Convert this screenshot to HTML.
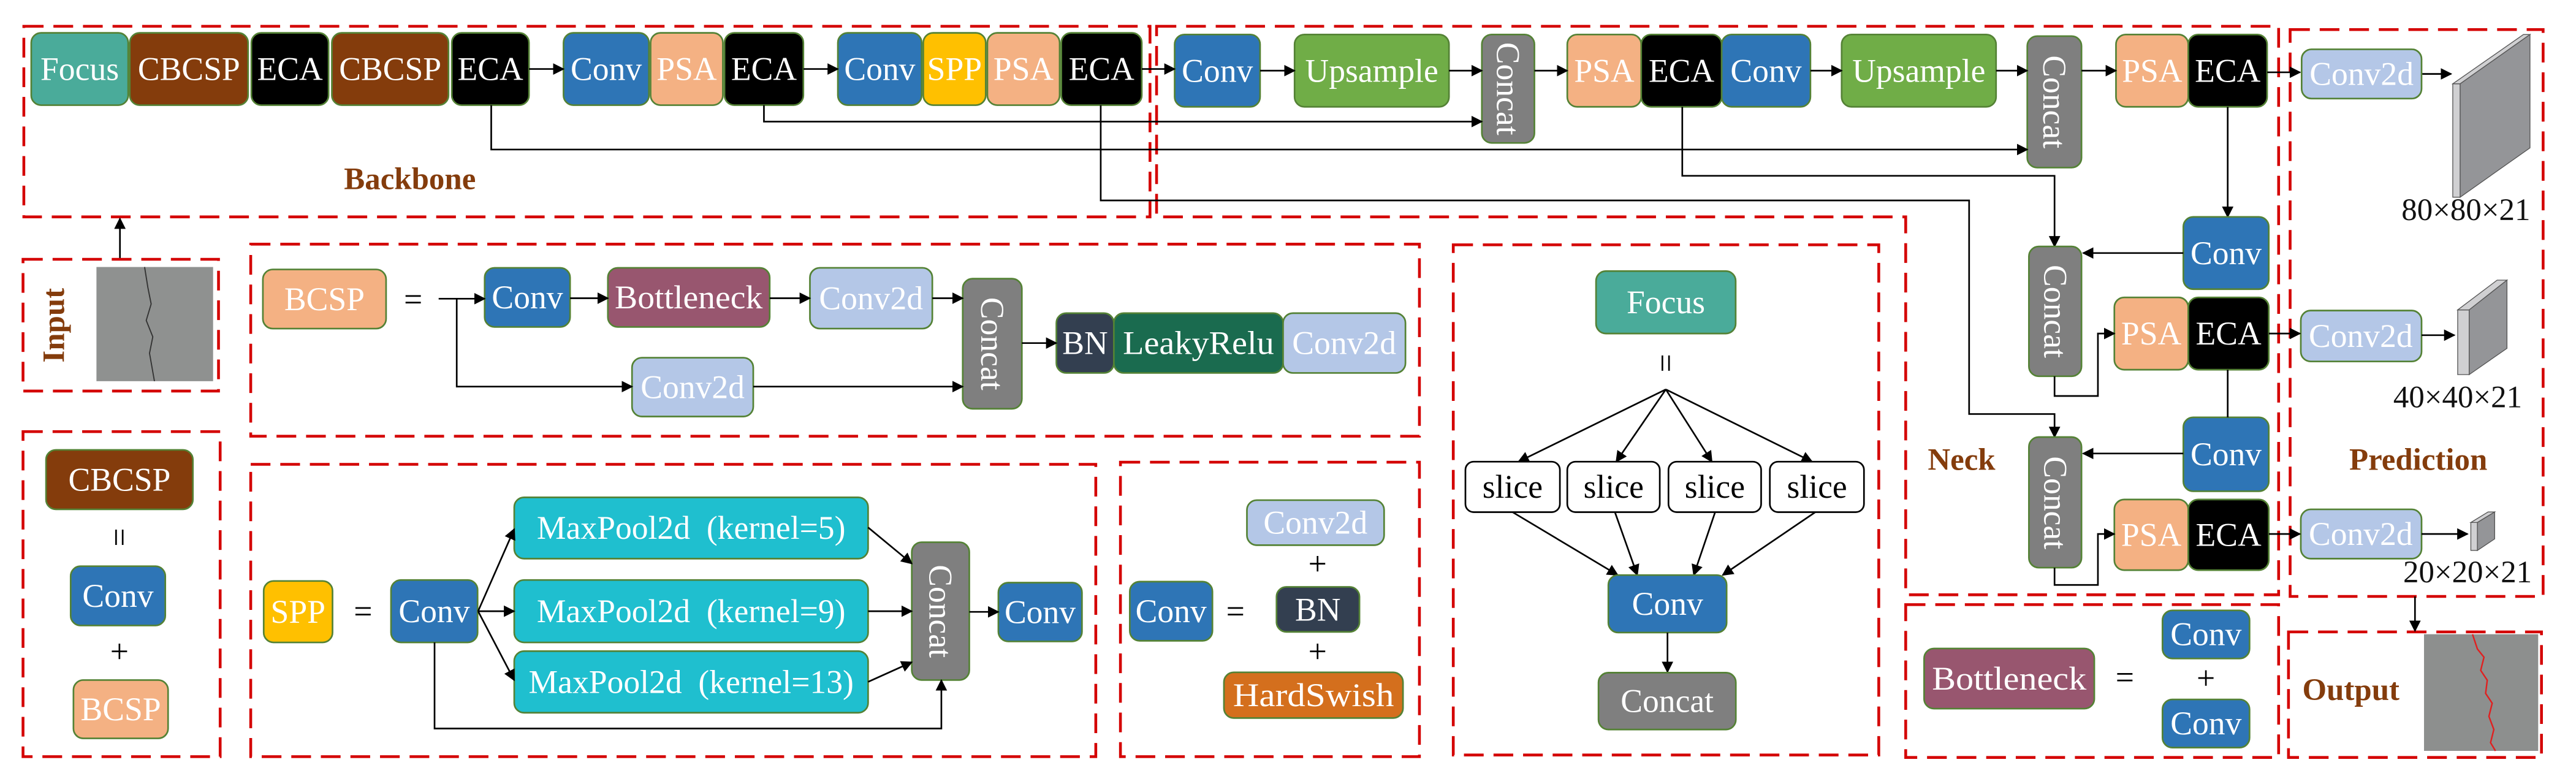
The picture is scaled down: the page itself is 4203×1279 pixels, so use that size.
<!DOCTYPE html>
<html><head><meta charset="utf-8"><style>
html,body{margin:0;padding:0;background:#fff;}
svg{display:block;}
text{font-family:'Liberation Serif','DejaVu Serif',serif;}
.t{fill:#fff;font-size:20px;text-anchor:middle;dominant-baseline:central;}
.k{fill:#000;}
.lb{fill:#843c0c;font-weight:bold;font-size:19px;text-anchor:middle;}
.dim{fill:#111;font-size:19px;text-anchor:middle;}
.d{fill:none;stroke:#d40000;stroke-width:1.7;stroke-dasharray:12 6;}
.b{stroke:#548235;stroke-width:1;}
.l{fill:none;stroke:#000;stroke-width:1;}
.la{fill:none;stroke:#000;stroke-width:1;marker-end:url(#ar);}
</style></head><body>
<svg width="4203" height="1279" viewBox="0 0 1568 477.16" xmlns="http://www.w3.org/2000/svg" font-family="Liberation Serif, serif">
<defs>
<marker id="ar" viewBox="0 0 10 10" refX="9" refY="5" markerWidth="7" markerHeight="7" markerUnits="userSpaceOnUse" orient="auto"><path d="M0,0 L10,5 L0,10 z" fill="#000"/></marker>
</defs>
<rect width="1568" height="477.16" fill="#fff"/>

<!-- dashed boxes -->
<rect class="d" x="14.5" y="16" width="685.5" height="116"/>
<path class="d" d="M704 16 H1387 V362 H1160 V132 H704 Z"/>
<rect class="d" x="1394" y="18" width="154" height="345"/>
<rect class="d" x="1393" y="384.6" width="154" height="76.4"/>
<rect class="d" x="1160" y="368" width="227" height="93"/>
<rect class="d" x="884.6" y="149" width="259" height="310.5"/>
<rect class="d" x="14" y="157.8" width="119" height="80.2"/>
<rect class="d" x="14" y="262.7" width="120" height="197.8"/>
<rect class="d" x="152.6" y="148.6" width="711.4" height="116.9"/>
<rect class="d" x="152.6" y="282.6" width="514.4" height="177.9"/>
<rect class="d" x="682" y="281.3" width="182" height="179.2"/>

<!-- top row backbone -->
<g>
<rect class="b" x="19" y="20" width="59" height="44" rx="6" fill="#4aab9a"/><text class="t" x="48.5" y="42">Focus</text>
<rect class="b" x="79" y="20" width="72" height="44" rx="6" fill="#843c0c"/><text class="t" x="115" y="42">CBCSP</text>
<rect class="b" x="153" y="20" width="47" height="44" rx="6" fill="#000"/><text class="t" x="176.5" y="42">ECA</text>
<rect class="b" x="202" y="20" width="71" height="44" rx="6" fill="#843c0c"/><text class="t" x="237.5" y="42">CBCSP</text>
<rect class="b" x="275" y="20" width="47" height="44" rx="6" fill="#000"/><text class="t" x="298.5" y="42">ECA</text>
<rect class="b" x="343" y="20" width="52" height="44" rx="6" fill="#2e75b6"/><text class="t" x="369" y="42">Conv</text>
<rect class="b" x="396" y="20" width="44" height="44" rx="6" fill="#f4b183"/><text class="t" x="418" y="42">PSA</text>
<rect class="b" x="441" y="20" width="48" height="44" rx="6" fill="#000"/><text class="t" x="465" y="42">ECA</text>
<rect class="b" x="510" y="20" width="51" height="44" rx="6" fill="#2e75b6"/><text class="t" x="535.5" y="42">Conv</text>
<rect class="b" x="562" y="20" width="38" height="44" rx="6" fill="#ffc000"/><text class="t" x="581" y="42">SPP</text>
<rect class="b" x="601" y="20" width="44" height="44" rx="6" fill="#f4b183"/><text class="t" x="623" y="42">PSA</text>
<rect class="b" x="646" y="20" width="49" height="44" rx="6" fill="#000"/><text class="t" x="670.5" y="42">ECA</text>
</g>
<!-- top row neck -->
<g>
<rect class="b" x="715" y="21" width="52" height="44" rx="6" fill="#2e75b6"/><text class="t" x="741" y="43">Conv</text>
<rect class="b" x="788" y="21" width="94" height="44" rx="6" fill="#70ad47"/><text class="t" x="835" y="43">Upsample</text>
<rect class="b" x="902" y="21" width="32" height="66" rx="6" fill="#7f7f7f"/><text class="t" transform="translate(918,54) rotate(90)" x="0" y="0">Concat</text>
<rect class="b" x="954" y="21" width="45" height="44" rx="6" fill="#f4b183"/><text class="t" x="976.5" y="43">PSA</text>
<rect class="b" x="999" y="21" width="49" height="44" rx="6" fill="#000"/><text class="t" x="1023.5" y="43">ECA</text>
<rect class="b" x="1048" y="21" width="54" height="44" rx="6" fill="#2e75b6"/><text class="t" x="1075" y="43">Conv</text>
<rect class="b" x="1121" y="21" width="94" height="44" rx="6" fill="#70ad47"/><text class="t" x="1168" y="43">Upsample</text>
<rect class="b" x="1234" y="22" width="33" height="80" rx="6" fill="#7f7f7f"/><text class="t" transform="translate(1250.5,62) rotate(90)" x="0" y="0">Concat</text>
<rect class="b" x="1288" y="21" width="44" height="44" rx="6" fill="#f4b183"/><text class="t" x="1310" y="43">PSA</text>
<rect class="b" x="1332" y="21" width="48" height="44" rx="6" fill="#000"/><text class="t" x="1356" y="43">ECA</text>
</g>

<!-- top arrows -->
<path class="la" d="M322 42 H343"/>
<path class="la" d="M489 42 H510"/>
<path class="la" d="M695 42 H715"/>
<path class="la" d="M767 43 H788"/>
<path class="la" d="M882 43 H902"/>
<path class="la" d="M934 43 H954"/>
<path class="la" d="M1102 43 H1121"/>
<path class="la" d="M1215 43 H1234"/>
<path class="la" d="M1267 43 H1288"/>
<path class="la" d="M1380 44 H1400"/>
<path class="la" d="M1474 45 H1492"/>

<!-- skip lines -->
<path class="la" d="M299 64 V91 H1234"/>
<path class="la" d="M465 64 V74 H902"/>
<path class="la" d="M670 64 V122 H1198.6 V252 H1250.6 V266"/>
<path class="la" d="M1024 65 V107 H1250.6 V150"/>
<path class="la" d="M1356 65 V132"/>

<text class="lb" x="249.5" y="115">Backbone</text>

<!-- prediction top -->
<rect class="b" x="1401" y="30" width="73" height="30" rx="6" fill="#b4c7e7"/><text class="t" x="1437.5" y="45">Conv2d</text>
<polygon points="1493,51 1497.5,51 1497.5,120 1493,120" fill="#d0d0d2" stroke="#555" stroke-width="0.5"/>
<polygon points="1493,51 1536,21 1540,21 1497.5,51" fill="#d0d0d2" stroke="#555" stroke-width="0.5"/>
<polygon points="1497.5,51 1540,21 1540,90 1497.5,120" fill="#949598" stroke="#555" stroke-width="0.5"/>
<text class="dim" x="1501" y="134">80×80×21</text>

<!-- neck right column -->
<rect class="b" x="1329" y="132" width="52" height="44" rx="6" fill="#2e75b6"/><text class="t" x="1355" y="154">Conv</text>
<rect class="b" x="1235" y="150" width="32" height="79" rx="6" fill="#7f7f7f"/><text class="t" transform="translate(1251,189.5) rotate(90)" x="0" y="0">Concat</text>
<rect class="b" x="1287" y="181" width="45" height="44" rx="6" fill="#f4b183"/><text class="t" x="1309.5" y="203">PSA</text>
<rect class="b" x="1332" y="181" width="49" height="44" rx="6" fill="#000"/><text class="t" x="1356.5" y="203">ECA</text>
<rect class="b" x="1400.5" y="189" width="73.5" height="31" rx="6" fill="#b4c7e7"/><text class="t" x="1437" y="204.5">Conv2d</text>
<polygon points="1496,188.6 1503,188.6 1503,228 1496,228" fill="#d0d0d2" stroke="#555" stroke-width="0.5"/>
<polygon points="1496,188.6 1520,170.5 1526,170.5 1503,188.6" fill="#d0d0d2" stroke="#555" stroke-width="0.5"/>
<polygon points="1503,188.6 1526,170.5 1526,212 1503,228" fill="#949598" stroke="#555" stroke-width="0.5"/>
<text class="dim" x="1496" y="248">40×40×21</text>

<rect class="b" x="1329" y="254" width="52" height="45" rx="6" fill="#2e75b6"/><text class="t" x="1355" y="276.5">Conv</text>
<rect class="b" x="1235" y="266" width="32" height="79.5" rx="6" fill="#7f7f7f"/><text class="t" transform="translate(1251,306) rotate(90)" x="0" y="0">Concat</text>
<rect class="b" x="1287" y="304" width="45" height="43" rx="6" fill="#f4b183"/><text class="t" x="1309.5" y="325.5">PSA</text>
<rect class="b" x="1332" y="304" width="49" height="43" rx="6" fill="#000"/><text class="t" x="1356.5" y="325.5">ECA</text>
<rect class="b" x="1400.5" y="310" width="73.5" height="30" rx="6" fill="#b4c7e7"/><text class="t" x="1437" y="325">Conv2d</text>
<polygon points="1504,318 1508,318 1508,335 1504,335" fill="#d0d0d2" stroke="#555" stroke-width="0.5"/>
<polygon points="1504,318 1514.5,311.6 1518.5,311.6 1508,318" fill="#d0d0d2" stroke="#555" stroke-width="0.5"/>
<polygon points="1508,318 1518.5,311.6 1518.5,328 1508,335" fill="#949598" stroke="#555" stroke-width="0.5"/>
<text class="dim" x="1502" y="354.5">20×20×21</text>

<path class="la" d="M1329 154 H1268"/>
<path class="la" d="M1250.6 229 V241 H1277 V203 H1287"/>
<path class="l" d="M1356 225 V254"/>
<path class="la" d="M1329 276 H1268"/>
<path class="la" d="M1250.6 345.5 V356 H1277 V325 H1287"/>
<path class="la" d="M1381 203 H1400"/>
<path class="la" d="M1381 325 H1400"/>
<path class="la" d="M1474 204 H1494"/>
<path class="la" d="M1474 325 H1502"/>
<path class="la" d="M1470 363 V384"/>

<text class="lb" x="1194" y="286">Neck</text>
<text class="lb" x="1472" y="286">Prediction</text>

<!-- output -->
<text class="lb" x="1431" y="426">Output</text>
<rect x="1475.5" y="386" width="69.5" height="71" fill="#8d8f8e"/>
<path d="M1505 386 L1508 395 L1512 400 L1510 408 L1514 414 L1513 422 L1517 428 L1515 436 L1518 444 L1516 452 L1519 457" fill="none" stroke="#e02020" stroke-width="0.9"/>

<!-- bottleneck def -->
<rect class="b" x="1171.2" y="394.7" width="103.6" height="36.6" rx="6" fill="#98566f"/><text class="t" x="1223" y="413" textLength="94" lengthAdjust="spacingAndGlyphs">Bottleneck</text>
<text class="t k" x="1293.4" y="412">=</text>
<rect class="b" x="1316.3" y="371.5" width="53" height="29.3" rx="6" fill="#2e75b6"/><text class="t" x="1342.8" y="386">Conv</text>
<text class="t k" x="1342.7" y="412.6">+</text>
<rect class="b" x="1316.3" y="425.7" width="53" height="29.3" rx="6" fill="#2e75b6"/><text class="t" x="1342.8" y="440.3">Conv</text>

<!-- Focus def -->
<rect class="b" x="971.5" y="165" width="85" height="38" rx="6" fill="#4aab9a"/><text class="t" x="1014" y="184">Focus</text>
<text class="t k" x="1014" y="221" transform="rotate(90 1014 221)">=</text>
<g>
<rect x="892" y="281" width="57.5" height="30.7" rx="5" fill="#fff" stroke="#000" stroke-width="1"/><text class="t k" x="920.7" y="296.3">slice</text>
<rect x="954" y="281" width="56.3" height="30.7" rx="5" fill="#fff" stroke="#000" stroke-width="1"/><text class="t k" x="982.2" y="296.3">slice</text>
<rect x="1015.6" y="281" width="56.4" height="30.7" rx="5" fill="#fff" stroke="#000" stroke-width="1"/><text class="t k" x="1043.8" y="296.3">slice</text>
<rect x="1077.3" y="281" width="57.3" height="30.7" rx="5" fill="#fff" stroke="#000" stroke-width="1"/><text class="t k" x="1106" y="296.3">slice</text>
</g>
<path class="la" d="M1014 237 L924.3 281"/>
<path class="la" d="M1014 237 L983.8 281"/>
<path class="la" d="M1014 237 L1042 281"/>
<path class="la" d="M1014 237 L1103 281"/>
<path class="la" d="M920.7 311.7 L984.7 350"/>
<path class="la" d="M983 311.7 L996.6 350"/>
<path class="la" d="M1044 311.7 L1031 350"/>
<path class="la" d="M1105 311.7 L1048.6 350"/>
<rect class="b" x="979" y="350" width="72" height="35" rx="6" fill="#2e75b6"/><text class="t" x="1015" y="367.5">Conv</text>
<path class="la" d="M1015 385 V409"/>
<rect class="b" x="973" y="409.4" width="83.6" height="34.6" rx="6" fill="#7f7f7f"/><text class="t" x="1014.8" y="426.7">Concat</text>

<!-- Input -->
<text class="lb" transform="translate(39,198) rotate(-90)" x="0" y="0">Input</text>
<rect x="58.7" y="162.5" width="71" height="69.5" fill="#8f9190"/>
<path d="M88 162.5 L90 175 L92 185 L89 195 L93 205 L91 215 L94 232" fill="none" stroke="#333" stroke-width="0.7"/>
<path class="la" d="M73 157 V133"/>

<!-- CBCSP def -->
<rect class="b" x="28" y="273.8" width="89.4" height="36.2" rx="6" fill="#843c0c"/><text class="t" x="72.7" y="292">CBCSP</text>
<text class="t k" x="72.7" y="327" transform="rotate(90 72.7 327)">=</text>
<rect class="b" x="43" y="344.6" width="57.6" height="36.1" rx="6" fill="#2e75b6"/><text class="t" x="71.8" y="362.6">Conv</text>
<text class="t k" x="72.7" y="396.4">+</text>
<rect class="b" x="44.7" y="413.9" width="57.6" height="35.5" rx="6" fill="#f4b183"/><text class="t" x="73.5" y="431.6">BCSP</text>

<!-- BCSP def -->
<rect class="b" x="160" y="164" width="75" height="36" rx="6" fill="#f4b183"/><text class="t" x="197.5" y="182">BCSP</text>
<text class="t k" x="251.5" y="182">=</text>
<rect class="b" x="295" y="163" width="52" height="36" rx="6" fill="#2e75b6"/><text class="t" x="321" y="181">Conv</text>
<rect class="b" x="370" y="163" width="98.5" height="36" rx="6" fill="#98566f"/><text class="t" x="419.2" y="181" textLength="90" lengthAdjust="spacingAndGlyphs">Bottleneck</text>
<rect class="b" x="493" y="163" width="74.5" height="37" rx="6" fill="#b4c7e7"/><text class="t" x="530.2" y="181.5">Conv2d</text>
<rect class="b" x="586" y="169.6" width="36" height="79.2" rx="6" fill="#7f7f7f"/><text class="t" transform="translate(604,209.2) rotate(90)" x="0" y="0">Concat</text>
<rect class="b" x="384.7" y="217.7" width="73.8" height="35.8" rx="6" fill="#b4c7e7"/><text class="t" x="421.6" y="235.6">Conv2d</text>
<rect class="b" x="643" y="190.6" width="35" height="36.4" rx="6" fill="#333f50"/><text class="t" x="660.5" y="208.8">BN</text>
<rect class="b" x="678" y="190.6" width="103" height="36.4" rx="6" fill="#1a6b4f"/><text class="t" x="729.5" y="208.8" textLength="92" lengthAdjust="spacingAndGlyphs">LeakyRelu</text>
<rect class="b" x="781" y="190.6" width="74.5" height="36.4" rx="6" fill="#b4c7e7"/><text class="t" x="818.2" y="208.8">Conv2d</text>
<path class="la" d="M267 181.8 H295"/>
<path class="la" d="M347 181.5 H370"/>
<path class="la" d="M468.5 181.5 H493"/>
<path class="la" d="M567.5 181.5 H586"/>
<path class="la" d="M278 181.8 V235.3 H384.7"/>
<path class="la" d="M458.5 235.3 H586"/>
<path class="la" d="M622 208.8 H643"/>

<!-- SPP def -->
<rect class="b" x="160.5" y="353.6" width="41.9" height="37.4" rx="6" fill="#ffc000"/><text class="t" x="181.4" y="372.3">SPP</text>
<text class="t k" x="221" y="372">=</text>
<rect class="b" x="238" y="353" width="52.7" height="38" rx="6" fill="#2e75b6"/><text class="t" x="264.3" y="372">Conv</text>
<rect class="b" x="313" y="302.7" width="215.4" height="37.3" rx="6" fill="#1fbfcf"/><text class="t" x="420.7" y="321.3" xml:space="preserve">MaxPool2d  (kernel=5)</text>
<rect class="b" x="313" y="353" width="215.4" height="38" rx="6" fill="#1fbfcf"/><text class="t" x="420.7" y="372" xml:space="preserve">MaxPool2d  (kernel=9)</text>
<rect class="b" x="313" y="396.3" width="215.4" height="37.5" rx="6" fill="#1fbfcf"/><text class="t" x="420.7" y="415" xml:space="preserve">MaxPool2d  (kernel=13)</text>
<rect class="b" x="555" y="330" width="35" height="83.9" rx="6" fill="#7f7f7f"/><text class="t" transform="translate(572.5,372) rotate(90)" x="0" y="0">Concat</text>
<rect class="b" x="607.7" y="354.6" width="50.9" height="35.8" rx="6" fill="#2e75b6"/><text class="t" x="633.1" y="372.5">Conv</text>
<path class="la" d="M291 372 L313 322"/>
<path class="la" d="M291 372 H313"/>
<path class="la" d="M291 372 L313 414"/>
<path class="la" d="M528.4 321 L555 343"/>
<path class="la" d="M528.4 372 H555"/>
<path class="la" d="M528.4 415 L555 403"/>
<path class="la" d="M590 372.4 H607.7"/>
<path class="la" d="M264.5 391 V443.4 H573 V414"/>

<!-- Conv def -->
<rect class="b" x="687.7" y="354" width="50.3" height="36" rx="6" fill="#2e75b6"/><text class="t" x="712.8" y="372">Conv</text>
<text class="t k" x="752" y="372">=</text>
<rect class="b" x="759" y="304.4" width="83.5" height="27.4" rx="6" fill="#b4c7e7"/><text class="t" x="800.7" y="318">Conv2d</text>
<text class="t k" x="802" y="343">+</text>
<rect class="b" x="777" y="357.2" width="50.5" height="27.4" rx="6" fill="#333f50"/><text class="t" x="802.2" y="371">BN</text>
<text class="t k" x="802" y="396.4">+</text>
<rect class="b" x="745" y="409.2" width="109" height="27.8" rx="6" fill="#d46f1d"/><text class="t" x="799.5" y="423" textLength="98" lengthAdjust="spacingAndGlyphs">HardSwish</text>
</svg>
</body></html>
